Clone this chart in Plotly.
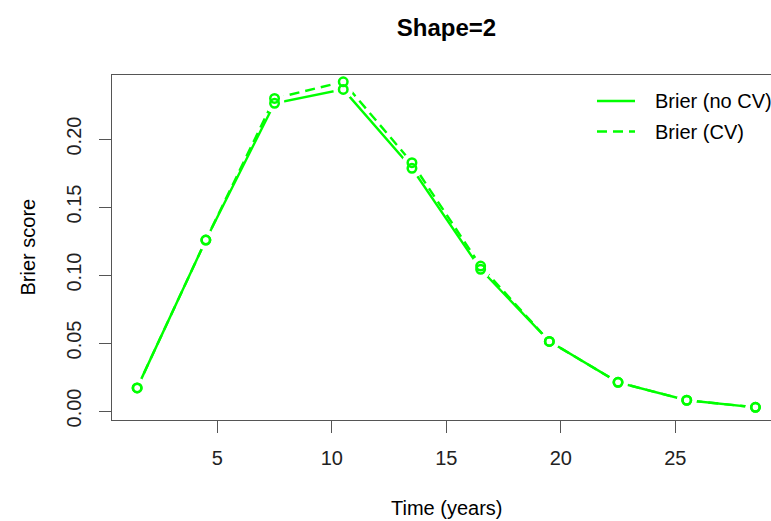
import plotly.graph_objects as go

# ---- data ----
time_years = [1.5, 4.5, 7.5, 10.5, 13.5, 16.5, 19.5, 22.5, 25.5, 28.5]
brier_no_cv = [0.0170, 0.1257, 0.2263, 0.2365, 0.1785, 0.1042, 0.0512, 0.0211, 0.0079, 0.0027]
brier_cv = [0.0170, 0.1257, 0.2299, 0.2421, 0.1826, 0.1066, 0.0512, 0.0211, 0.0079, 0.0027]
x_ticks = [5, 10, 15, 20, 25]
y_ticks = [0.00, 0.05, 0.10, 0.15, 0.20]
y_tick_labels = ["0.00", "0.05", "0.10", "0.15", "0.20"]
series_names = ["Brier (no CV)", "Brier (CV)"]

GREEN = "#00FF00"
FONT = "Liberation Sans, Arial, Helvetica, sans-serif"
AX = "#555555"
W, H = 771, 521
L, R, T, B = 112, 0, 75, 101
PW, PH = W - L - R, H - T - B

def px_x(px):
    return (px - L) / PW

def px_y(py):
    return (H - B - py) / PH

fig = go.Figure()

# lines
fig.add_trace(go.Scatter(x=time_years, y=brier_no_cv, mode="lines",
                         line=dict(color=GREEN, width=2.4), showlegend=False,
                         name=series_names[0]))
fig.add_trace(go.Scatter(x=time_years, y=brier_cv, mode="lines",
                         line=dict(color=GREEN, width=2.4, dash="10px,6px"),
                         showlegend=False, name=series_names[1]))
# white gaps around points (R type="b")
for ys in (brier_no_cv, brier_cv):
    fig.add_trace(go.Scatter(x=time_years, y=ys, mode="markers",
                             marker=dict(symbol="circle", size=20, color="white",
                                         line=dict(width=0)),
                             showlegend=False, hoverinfo="skip"))
# open circles
for ys in (brier_no_cv, brier_cv):
    fig.add_trace(go.Scatter(x=time_years, y=ys, mode="markers",
                             marker=dict(symbol="circle-open", size=8.5, color=GREEN,
                                         line=dict(width=2.5, color=GREEN)),
                             showlegend=False))

# manual legend (R style)
leg_rows = [101, 131.5]
leg_dash = ["solid", "10px,6px"]
for name, py, dash in zip(series_names, leg_rows, leg_dash):
    fig.add_shape(type="line", xref="paper", yref="paper",
                  x0=px_x(597), x1=px_x(635), y0=px_y(py), y1=px_y(py),
                  line=dict(color=GREEN, width=2.4, dash=dash))
    fig.add_annotation(xref="paper", yref="paper", x=px_x(653), y=px_y(py),
                       text=name, showarrow=False, xanchor="left", yanchor="middle",
                       font=dict(family=FONT, size=20, color="#000000"))

# axis titles
fig.add_annotation(xref="paper", yref="paper", x=px_x(446.5), y=px_y(508),
                   text="Time (years)", showarrow=False, xanchor="center",
                   yanchor="middle", font=dict(family=FONT, size=20, color="#000000"))
fig.add_annotation(xref="paper", yref="paper", x=px_x(27), y=px_y(247.5),
                   text="Brier score", showarrow=False, textangle=-90,
                   xanchor="center", yanchor="middle",
                   font=dict(family=FONT, size=20, color="#000000"))

fig.update_layout(
    width=W, height=H,
    margin=dict(l=L, r=R, t=T, b=B, pad=0),
    paper_bgcolor="white", plot_bgcolor="white",
    title=dict(text="<b>Shape=2</b>", x=446.5 / W, xref="container", xanchor="center",
               y=1 - 28 / H, yref="container", yanchor="middle",
               font=dict(family=FONT, size=24, color="#000000")),
    font=dict(family=FONT, size=20, color="#000000"),
    showlegend=False,
)
fig.update_xaxes(range=[0.402, 29.18], tickmode="array", tickvals=x_ticks,
                 ticks="outside", ticklen=12, tickwidth=1.2, tickcolor=AX,
                 showline=True, linecolor=AX, linewidth=1.2, mirror=True,
                 showgrid=False, zeroline=False, ticklabelstandoff=8,
                 tickfont=dict(family=FONT, size=20, color="#222222"))
fig.update_yaxes(range=[-0.00662, 0.2471], tickmode="array", tickvals=y_ticks,
                 ticktext=y_tick_labels, tickangle=-90,
                 ticks="outside", ticklen=12, tickwidth=1.2, tickcolor=AX,
                 showline=True, linecolor=AX, linewidth=1.2, mirror=False,
                 showgrid=False, zeroline=False, ticklabelstandoff=10,
                 tickfont=dict(family=FONT, size=20, color="#222222"))

fig.write_html("out.html")
